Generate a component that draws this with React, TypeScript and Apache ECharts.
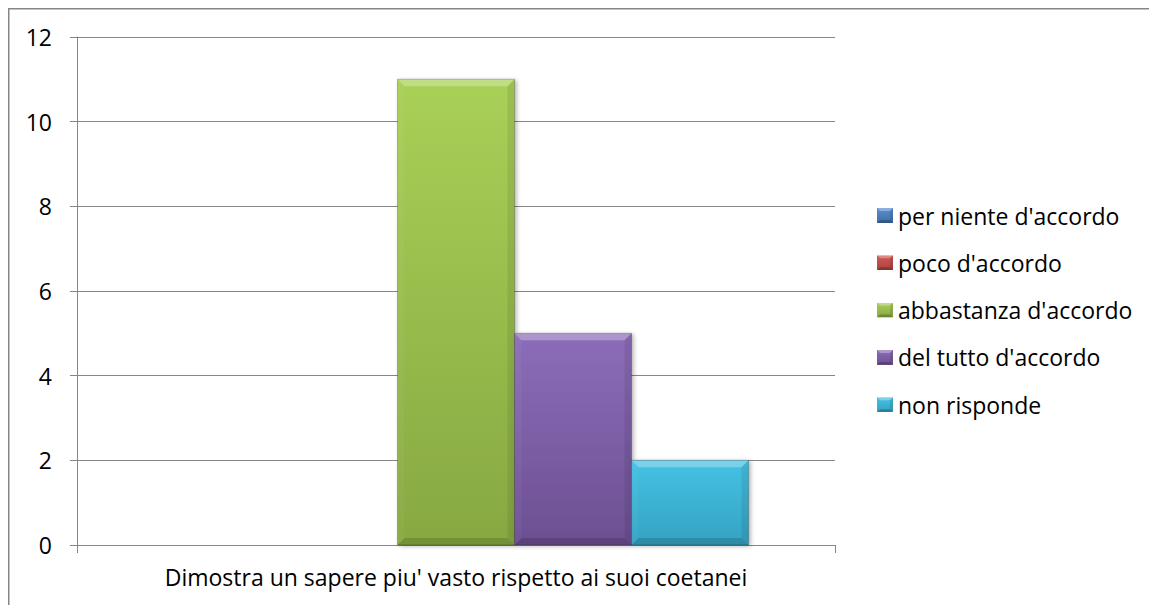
import React, { useEffect, useRef } from "react";
import * as echarts from "echarts";

const categories = ["Dimostra un sapere piu' vasto rispetto ai suoi coetanei"];
const seriesNames = [
  "per niente d'accordo",
  "poco d'accordo",
  "abbastanza d'accordo",
  "del tutto d'accordo",
  "non risponde",
];
const perNienteValues = [0];
const pocoValues = [0];
const abbastanzaValues = [11];
const delTuttoValues = [5];
const nonRispondeValues = [2];
const seriesValues = [perNienteValues, pocoValues, abbastanzaValues, delTuttoValues, nonRispondeValues];
const yTicks = [0, 2, 4, 6, 8, 10, 12];

const topColors = ["#5A8FD0", "#D35A56", "#A9D057", "#8C6DB9", "#45C2E4"];
const bottomColors = ["#3F6EA6", "#A8413E", "#87A842", "#6C4F92", "#34A2C2"];

const FONT = "'Open Sans', sans-serif";
const FS = 23;
const GAP = 0.228;
const BEVEL = 7;

function legendIcon(i: number): string {
  const w = 16, h = 15, b = 3;
  const svg =
    `<svg xmlns="http://www.w3.org/2000/svg" width="${w}" height="${h}">` +
    `<defs><linearGradient id="g" x1="0" y1="0" x2="0" y2="1"><stop offset="0" stop-color="${topColors[i]}"/><stop offset="1" stop-color="${bottomColors[i]}"/></linearGradient></defs>` +
    `<rect x="0" y="0" width="${w}" height="${h}" fill="url(#g)"/>` +
    `<polygon points="0,0 ${w},0 ${w - b},${b} ${b},${b}" fill="rgba(255,255,255,0.3)"/>` +
    `<polygon points="${w},0 ${w},${h} ${w - b},${h - b} ${w - b},${b}" fill="rgba(0,0,0,0.1)"/>` +
    `<polygon points="0,${h} ${w},${h} ${w - b},${h - b} ${b},${h - b}" fill="rgba(0,0,0,0.22)"/>` +
    `</svg>`;
  return "image://data:image/svg+xml;charset=utf-8," + encodeURIComponent(svg);
}

export default function App() {
  const ref = useRef<HTMLDivElement>(null);
  useEffect(() => {
    if (!ref.current) return;
    const chart = echarts.init(ref.current, undefined, { renderer: "svg" });
    const n = seriesNames.length;
    const series = seriesNames.map((name, idx) => ({
      type: "custom",
      name,
      data: seriesValues[idx].map((v, ci) => [ci, v]),
      encode: { x: 0, y: 1 },
      itemStyle: { color: topColors[idx] },
      renderItem: (params: any, api: any) => {
        const cat = api.value(0);
        const val = api.value(1);
        if (!val) return { type: "group", children: [] };
        const base = api.coord([cat, 0]);
        const top = api.coord([cat, val]);
        const band = api.size([1, 0])[0];
        const groupW = band * (1 - GAP);
        const w = groupW / n;
        const x = base[0] - groupW / 2 + idx * w;
        const y = top[1];
        const h = base[1] - top[1];
        const b = Math.min(BEVEL, h / 2, w / 2);
        return {
          type: "group",
          children: [
            {
              type: "rect",
              shape: { x, y, width: w, height: h },
              style: {
                fill: new echarts.graphic.LinearGradient(0, 0, 0, 1, [
                  { offset: 0, color: topColors[idx] },
                  { offset: 1, color: bottomColors[idx] },
                ]),
                stroke: "rgba(0,0,0,0.22)",
                lineWidth: 1,
                shadowBlur: 4,
                shadowOffsetX: 2,
                shadowOffsetY: 1,
                shadowColor: "rgba(0,0,0,0.3)",
              },
            },
            {
              type: "polygon",
              shape: { points: [[x, y], [x + w, y], [x + w - b, y + b], [x + b, y + b]] },
              style: { fill: "rgba(255,255,255,0.28)" },
            },
            {
              type: "polygon",
              shape: { points: [[x, y], [x + b, y + b], [x + b, y + h - b], [x, y + h]] },
              style: { fill: "rgba(255,255,255,0.04)" },
            },
            {
              type: "polygon",
              shape: { points: [[x + w, y], [x + w, y + h], [x + w - b, y + h - b], [x + w - b, y + b]] },
              style: { fill: "rgba(0,0,0,0.08)" },
            },
            {
              type: "polygon",
              shape: { points: [[x, y + h], [x + w, y + h], [x + w - b, y + h - b], [x + b, y + h - b]] },
              style: { fill: "rgba(0,0,0,0.14)" },
            },
          ],
        };
      },
    }));

    chart.setOption({
      animation: false,
      backgroundColor: "#ffffff",
      textStyle: { fontFamily: FONT, color: "#000" },
      graphic: [
        {
          type: "rect",
          shape: { x: 0.75, y: 0.75, width: 3000, height: 3000 },
          style: { fill: "none", stroke: "#868686", lineWidth: 1.5 },
          silent: true,
        },
      ],
      grid: { left: 69, top: 29, right: 314, bottom: 60, containLabel: false },
      xAxis: {
        type: "category",
        data: categories,
        boundaryGap: true,
        axisLine: { show: true, lineStyle: { color: "#868686", width: 1 } },
        axisTick: { show: true, length: 8, alignWithLabel: false, lineStyle: { color: "#868686" } },
        axisLabel: { margin: 20, fontSize: FS, fontFamily: FONT, color: "#000" },
        splitLine: { show: false },
      },
      yAxis: {
        type: "value",
        min: yTicks[0],
        max: yTicks[yTicks.length - 1],
        interval: 2,
        axisLine: { show: true, lineStyle: { color: "#868686", width: 1 } },
        axisTick: { show: true, length: 7, lineStyle: { color: "#868686" } },
        axisLabel: { margin: 25, fontSize: FS, fontFamily: FONT, color: "#000" },
        splitLine: { show: true, lineStyle: { color: "#868686", width: 1 } },
      },
      legend: {
        orient: "vertical",
        left: 869,
        top: 196,
        padding: 0,
        itemWidth: 16,
        itemHeight: 15,
        itemGap: 24.3,
        textStyle: { fontSize: FS, lineHeight: 22, fontFamily: FONT, color: "#000" },
        data: seriesNames.map((name, i) => ({ name, icon: legendIcon(i) })),
      },
      series,
    });
    return () => chart.dispose();
  }, []);
  return (
    <div
      ref={ref}
      style={{ position: "absolute", left: 8, top: 8, width: 1141, height: 597 }}
    />
  );
}
